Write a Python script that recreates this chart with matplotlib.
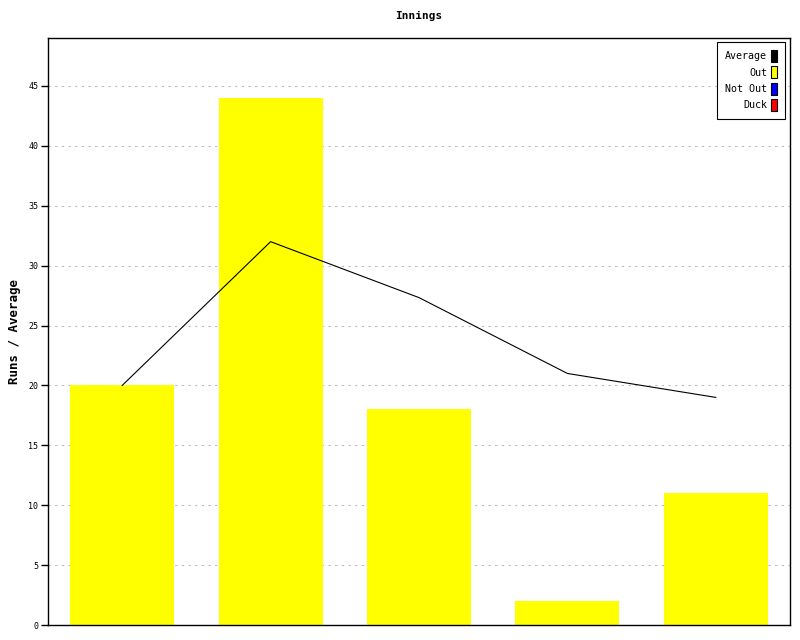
import numpy as np
import matplotlib.pyplot as plt
from matplotlib.patches import Patch

innings = [1, 2, 3, 4, 5]
runs = [20, 44, 18, 2, 11]
average = [20, 32, 27.33, 21, 19]
y_ticks = [0, 5, 10, 15, 20, 25, 30, 35, 40, 45]

legend_labels = ["Average", "Out", "Not Out", "Duck"]
legend_colors = ["black", "yellow", "blue", "red"]

plt.rcParams['font.family'] = ['DejaVu Sans Mono']

fig = plt.figure(figsize=(8, 6.4), dpi=100)
ax = fig.add_axes([0.06, 0.0234, 0.9275, 0.9172])

x = np.arange(len(innings))
ax.bar(x, runs, width=0.7, color="yellow", zorder=2)
ax.plot(x, average, color="black", linewidth=0.8, zorder=3)

ax.set_xlim(-0.5, len(innings) - 0.5)
ax.set_ylim(0, 49)
ax.set_yticks(y_ticks)
ax.set_yticklabels([str(t) for t in y_ticks], fontsize=6)
ax.set_xticks([])
ax.tick_params(axis="y", length=5, width=1, pad=2)
ax.yaxis.grid(True, linestyle=(0, (2, 4)), color="#bbbbbb", linewidth=0.8, zorder=0)
ax.set_axisbelow(True)
for s in ax.spines.values():
    s.set_linewidth(1)

ax.set_title("Innings", fontsize=8, fontweight="bold", pad=14)
ax.set_ylabel("Runs / Average", fontsize=9, fontweight="bold", labelpad=5)

handles = [Patch(facecolor=c, edgecolor="black", linewidth=0.8) for c in legend_colors]
leg = ax.legend(handles, legend_labels, loc="upper right", markerfirst=False,
                fontsize=7.2, handlelength=0.6, handleheight=1.45, handletextpad=0.4,
                labelspacing=0.45, borderpad=0.8, borderaxespad=0, fancybox=False,
                framealpha=1, edgecolor="black", bbox_to_anchor=(0.9933, 0.9932))
leg.get_frame().set_linewidth(0.8)
for t in leg.get_texts():
    t.set_ha("right")

fig.savefig("out.png", dpi=100)
